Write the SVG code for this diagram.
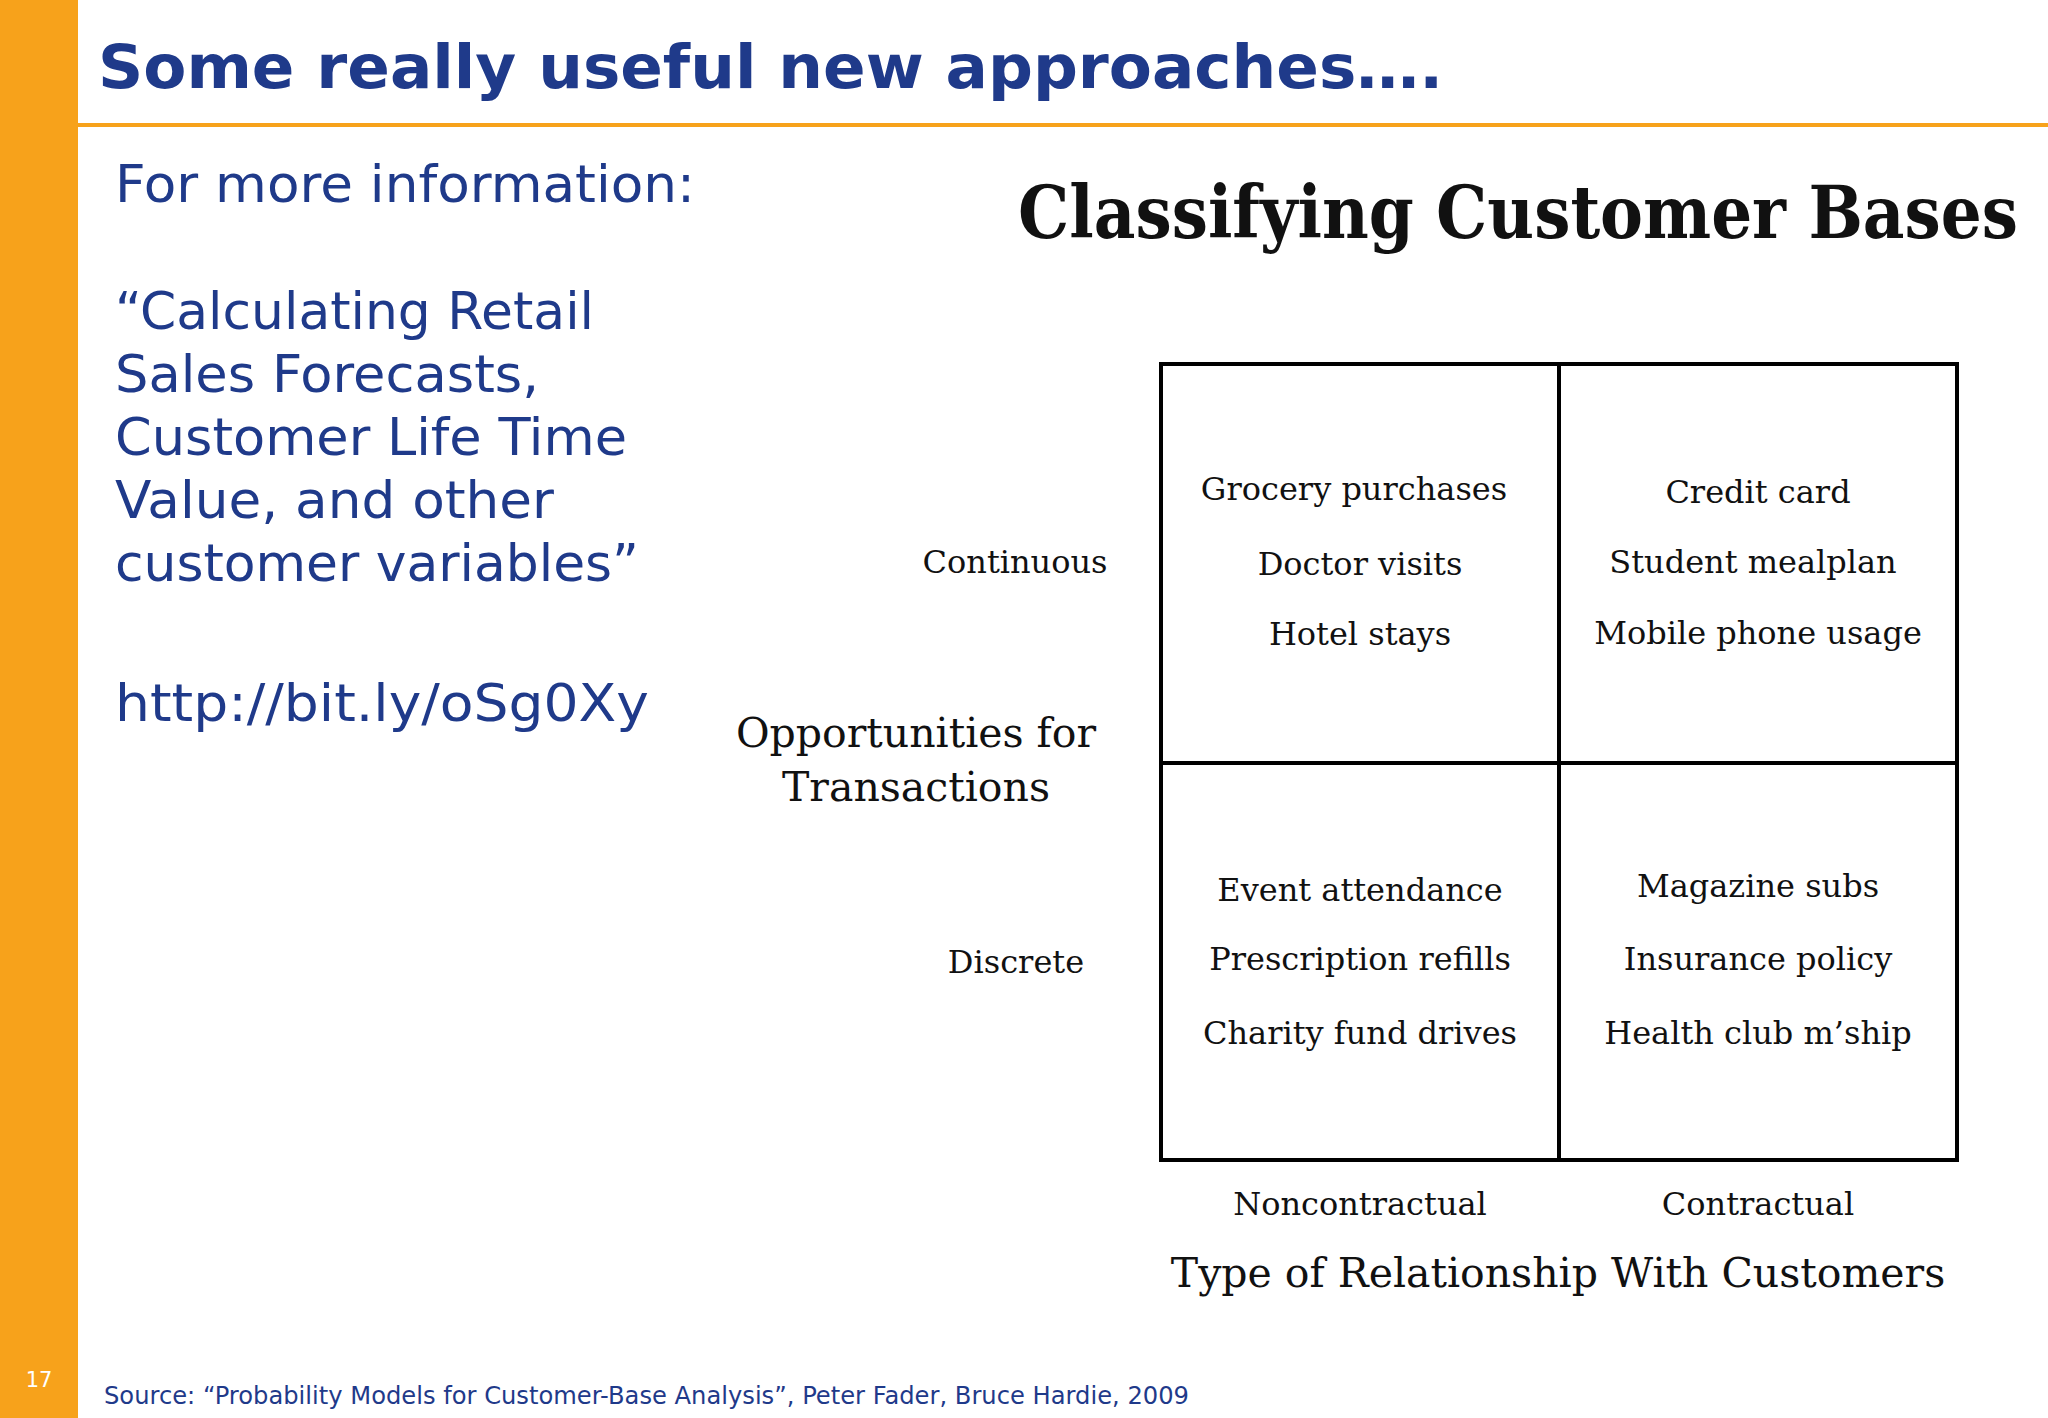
<svg xmlns="http://www.w3.org/2000/svg" width="2048" height="1418" viewBox="0 0 2048 1418">
<style>
.s{font-family:"DejaVu Sans","Verdana",sans-serif;fill:#1F3A8A}
.r{font-family:"DejaVu Serif","Liberation Serif",serif;fill:#111;text-anchor:middle}
.c{font-size:32px}
.b{fill:none;stroke:#000;stroke-width:4}
</style>
<rect width="2048" height="1418" fill="#fff"/>
<rect x="0" y="0" width="78" height="1418" fill="#F7A21B"/>
<rect x="78" y="123" width="1970" height="4" fill="#F7A21B"/>
<text x="39" y="1387" font-family="DejaVu Sans,sans-serif" font-size="21" fill="#fff" text-anchor="middle">17</text>
<text class="s" x="98" y="88" font-size="60" font-weight="bold" textLength="1345" lengthAdjust="spacingAndGlyphs">Some really useful new approaches….</text>
<g id="info">
<text class="s" x="115" y="202" font-size="52" textLength="580" lengthAdjust="spacingAndGlyphs">For more information:</text>
<text class="s" x="115" y="329" font-size="52" textLength="479" lengthAdjust="spacingAndGlyphs">“Calculating Retail</text>
<text class="s" x="115" y="392" font-size="52" textLength="424" lengthAdjust="spacingAndGlyphs">Sales Forecasts,</text>
<text class="s" x="115" y="455" font-size="52" textLength="512" lengthAdjust="spacingAndGlyphs">Customer Life Time</text>
<text class="s" x="115" y="518" font-size="52" textLength="439" lengthAdjust="spacingAndGlyphs">Value, and other</text>
<text class="s" x="115" y="581" font-size="52" textLength="524" lengthAdjust="spacingAndGlyphs">customer variables”</text>
<text class="s" x="115" y="721" font-size="52" textLength="534" lengthAdjust="spacingAndGlyphs">http://bit.ly/oSg0Xy</text>
</g>
<text class="s" x="104" y="1404" font-size="24" textLength="1085" lengthAdjust="spacingAndGlyphs">Source:  “Probability Models for Customer-Base Analysis”, Peter Fader, Bruce Hardie, 2009</text>
<text class="r" x="1518" y="238" font-size="72" font-weight="bold" textLength="1000" lengthAdjust="spacingAndGlyphs">Classifying Customer Bases</text>
<g id="grid">
<rect class="b" x="1161" y="364" width="796" height="796"/>
<line class="b" x1="1559" y1="364" x2="1559" y2="1160"/>
<line class="b" x1="1161" y1="763" x2="1957" y2="763"/>
</g>
<g id="tl" class="c"><text class="r" x="1354" y="500">Grocery purchases</text><text class="r" x="1360" y="575">Doctor visits</text><text class="r" x="1360" y="645">Hotel stays</text></g>
<g id="tr" class="c"><text class="r" x="1758" y="503">Credit card</text><text class="r" x="1753" y="573">Student mealplan</text><text class="r" x="1758" y="644">Mobile phone usage</text></g>
<g id="bl" class="c"><text class="r" x="1360" y="901">Event attendance</text><text class="r" x="1360" y="970">Prescription refills</text><text class="r" x="1360" y="1044">Charity fund drives</text></g>
<g id="br" class="c"><text class="r" x="1758" y="897">Magazine subs</text><text class="r" x="1758" y="970">Insurance policy</text><text class="r" x="1758" y="1044">Health club m’ship</text></g>
<g id="axes">
<text class="r c" x="1015" y="573">Continuous</text>
<text class="r c" x="1016" y="973">Discrete</text>
<text class="r" x="916" y="747" font-size="41">Opportunities for</text>
<text class="r" x="916" y="801" font-size="41">Transactions</text>
<text class="r c" x="1360" y="1215">Noncontractual</text>
<text class="r c" x="1758" y="1215">Contractual</text>
<text class="r" x="1558" y="1287" font-size="41">Type of Relationship With Customers</text>
</g>
</svg>
